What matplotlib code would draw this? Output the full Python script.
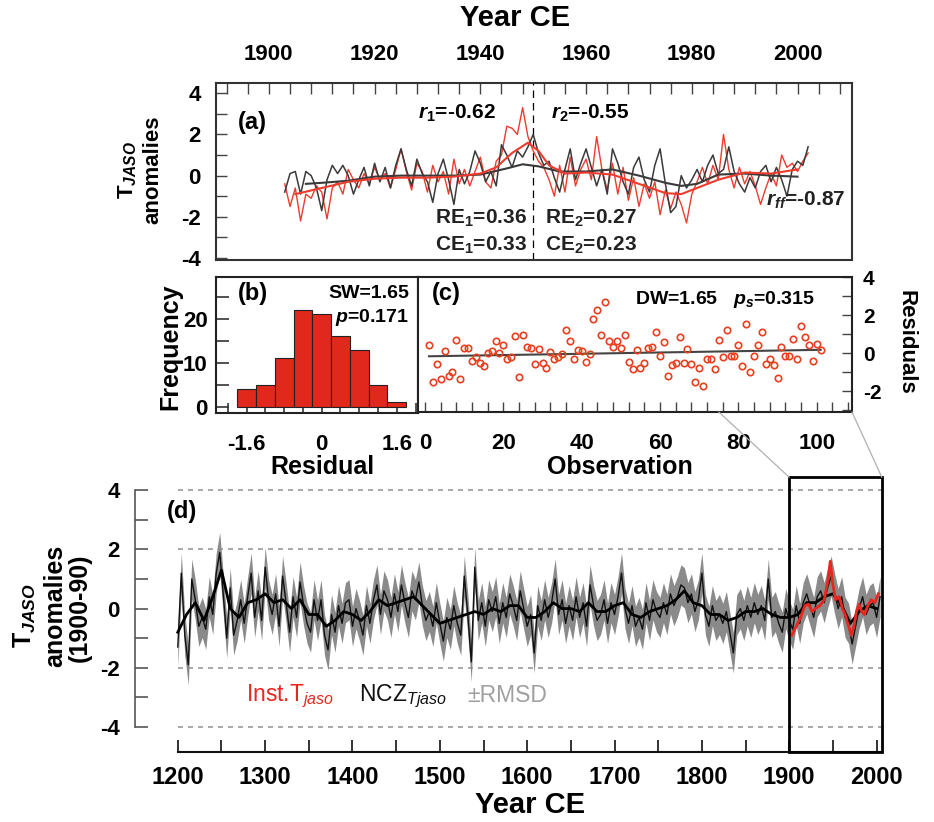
import numpy as np
import matplotlib
matplotlib.use("Agg")
import matplotlib.pyplot as plt
from matplotlib.patches import Rectangle, ConnectionPatch
from matplotlib.ticker import MultipleLocator, FixedLocator

plt.rcParams["font.family"] = ["Liberation Sans", "DejaVu Sans"]
plt.rcParams["font.weight"] = "bold"
plt.rcParams["axes.unicode_minus"] = False
plt.rcParams["mathtext.fontset"] = "custom"
plt.rcParams["mathtext.rm"] = "Liberation Sans:weight=normal"
plt.rcParams["mathtext.it"] = "Liberation Sans:style=italic:weight=normal"
plt.rcParams["mathtext.bf"] = "Liberation Sans:weight=bold"
plt.rcParams["mathtext.bfit"] = "Liberation Sans:style=italic:weight=bold"

RED = "#ee3b2e"
DARK = "#3a3a3a"

# ── Datos ──────────────────────────────────────────────────────────────────────
# (a) calibración 1903-2002: instrumental (rojo) y reconstrucción (negro)
years_a = np.arange(1903, 2003)
inst_a = [
    -0.4, -1.5, -0.6, -2.2, -0.9, -1.1, -0.5, -0.8, -2.1, -0.6,
    -0.3, -0.9, 0.3, -0.2, -0.6, 0.1, -0.4, 0.4, -0.2, 0.1,
    -0.6, 0.3, 1.3, 0.2, -0.7, 0.6, 0.2, -0.8, 0.5, -0.3,
    0.2, -0.9, 0.8, -0.4, 0.3, -0.5, 0.2, 0.9, -0.3, -0.6,
    0.7, 1.0, 2.4, 2.3, 2.0, 3.3, 1.9, 1.2, 0.7, 0.4,
    -0.2, -1.0, 0.5, -0.8, 0.9, -0.5, 0.3, 0.8, -0.2, 1.9,
    0.3, -0.7, 0.6, -0.9, 0.4, -1.2, -0.1, -1.5, -0.4, -1.1,
    -0.3, -1.9, -0.7, -1.6, -0.8, -1.4, -2.3, -0.9, -0.3, 0.4,
    -0.4, 0.5, -0.2, 2.0, 0.3, -0.6, 0.4, -0.4, 0.2, -0.5,
    -1.4, -0.6, 0.1, -0.5, 1.0, 0.4, 0.6, 0.2, 0.7, 1.1,
]
recon_a = [
    -0.8, 0.1, 0.2, -0.9, 0.2, 0.0, -0.6, -1.7, -0.2, 0.5,
    0.1, 0.5, 0.0, -0.9, -0.2, 0.4, -0.5, 0.6, -0.3, 0.4,
    -0.6, 0.5, 1.3, 0.3, -0.5, 0.8, 0.1, -0.3, -1.3, 0.1,
    0.8, -0.2, -1.4, 0.3, -0.4, 0.2, 1.2, 0.6, -0.3, 0.2,
    -0.5, 1.5, 1.0, 0.4, 1.2, 0.9, 1.4, 2.0, 1.1, 0.5,
    0.7, -0.1, -0.8, 0.3, 1.3, -0.2, 0.6, 1.3, 0.4, -0.5,
    0.3, -0.9, 1.3, 0.6, -0.3, -0.9, 0.4, 0.9, -0.2, -0.8,
    0.5, 1.3, -0.4, -1.8, -1.5, 0.0, -0.6, -0.2, 0.3, -0.3,
    0.5, 1.0, 0.1, 0.3, 1.4, 0.2, -0.4, -0.8, -0.1, -0.6,
    0.2, 0.5, -0.3, 0.4, -0.2, -1.0, 0.3, 0.7, 0.5, 1.4,
]
inst_smooth_yr = [1905, 1910, 1915, 1920, 1925, 1930, 1935, 1940, 1943, 1946, 1949,
                  1951, 1953, 1956, 1960, 1965, 1970, 1975, 1978, 1981, 1985, 1990,
                  1995, 2000]
inst_smooth = [-0.9, -0.6, -0.3, -0.15, -0.1, -0.1, -0.05, 0.1, 0.4, 1.1, 1.6,
               1.2, 0.5, 0.1, 0.15, 0.05, -0.4, -0.85, -0.9, -0.6, -0.2, 0.15,
               0.1, 0.3]
recon_smooth_yr = [1907, 1910, 1915, 1920, 1925, 1930, 1935, 1940, 1945, 1948, 1951,
                   1955, 1960, 1965, 1970, 1975, 1978, 1981, 1985, 1990, 1995, 2000]
recon_smooth = [-0.4, -0.35, -0.25, -0.05, 0.0, 0.0, 0.0, 0.05, 0.35, 0.55, 0.45,
                0.2, 0.2, 0.3, 0.0, -0.35, -0.5, -0.4, 0.05, 0.1, 0.0, -0.05]

# (b) histograma de residuos
bin_centers = [-1.6, -1.2, -0.8, -0.4, 0.0, 0.4, 0.8, 1.2, 1.6]
bin_counts = [4, 5, 11, 22, 21, 16, 13, 5, 1]

# (c) residuos por observación
residuals = [
    0.40, -1.50, -0.55, -1.36, 0.10, -1.19, -0.97, 0.69, -1.36, 0.28,
    0.28, -0.41, -0.21, -0.50, -0.69, 0.00, 0.10, 0.64, 0.02, 0.41,
    -0.33, -0.21, 0.90, -1.24, 0.97, 0.34, 0.28, -0.55, 0.21, -0.50,
    -0.76, 0.03, -0.29, -0.22, -0.07, 1.19, 0.64, -0.33, 0.17, 0.10,
    -0.48, -0.07, 1.81, 2.24, 0.97, 2.71, 0.64, 0.34, 0.64, 0.28,
    0.97, -0.48, -0.84, 0.14, -0.76, -0.53, 0.28, 0.34, 1.12, -0.16,
    0.57, -1.19, -0.64, -0.53, 0.83, -0.50, 0.21, -0.55, -1.50, -0.76,
    -1.72, -0.33, -0.33, -0.84, 0.69, -0.21, 1.19, -0.16, -0.16, 0.41,
    -0.69, 1.52, -0.97, -0.16, 0.41, 1.12, -0.55, -0.33, -0.64, -1.29,
    0.34, -0.16, -0.16, 0.76, -0.29, 1.40, 0.83, 0.41, -0.41, 0.48,
    0.17,
]
obs = np.arange(1, len(residuals) + 1)
trend_x = [1, 101]
trend_y = [-0.17, 0.17]

# (d) reconstrucción 1200-2004 (cada 4 años), suavizado decadal e instrumental
years_d = np.arange(1200, 2005, 4)
ncz_d = np.array([
    -1.3, 1.2, -0.9, -1.9, 1.0, 0.3, -0.6, -0.3, -0.7, 0.4,
    -0.2, 1.2, 1.9, 0.5, -1.0, 0.7, -0.9, -0.4, 0.3, -0.5,
    0.4, 1.2, -0.3, 0.6, -0.4, 1.4, 0.3, -0.2, 0.5, -0.6,
    1.1, 0.2, -0.8, 0.4, -0.3, 0.9, 0.1, -0.5, -0.8, 0.3,
    -0.4, 0.3, -0.9, -1.4, -0.2, -0.8, 0.1, -0.5, 0.2, 0.3,
    -0.6, 0.0, -0.4, -0.9, 0.1, -0.5, 0.3, 0.8, -0.2, 0.6,
    0.3, -0.3, 0.5, -0.1, 0.8, 0.2, -0.3, 0.6, 0.3, 0.9,
    0.1, -0.4, -0.1, -0.6, 0.2, -0.5, -1.1, -0.3, -0.7, 0.1,
    -0.5, -0.9, 1.1, -0.2, -1.8, 1.4, -0.4, 0.2, -0.6, 0.3,
    -0.1, 0.4, -0.5, 0.2, -0.3, 0.5, 0.1, -0.4, 0.6, 0.0,
    -0.6, -0.2, -1.5, 0.1, -0.4, 0.3, -0.3, 0.2, 1.0, -0.2,
    0.3, -0.5, 0.1, -0.4, 0.4, -0.3, 0.2, -0.6, 0.8, 0.1,
    -0.4, -0.2, 0.3, -0.5, 0.2, -0.2, 0.4, 1.2, 0.0, -0.5,
    0.1, -0.6, -0.3, -0.7, 0.2, -0.4, 0.3, -0.1, -0.3, 0.2,
    -0.2, 0.5, 0.1, 0.4, 0.8, 0.7, 0.2, 0.5, -0.1, 0.3,
    1.2, -0.2, -0.6, 0.1, -0.4, -0.2, -0.5, -0.1, -0.8, -1.5,
    -0.2, 0.0, -0.4, 0.1, -0.3, 0.2, -0.2, 0.1, -0.4, 1.0,
    -0.3, -0.1, -0.5, -0.8, 0.0, -0.4, -0.7, 0.1, -0.5, 0.2,
    0.5, 0.1, -0.3, 0.4, 0.6, 0.2, 0.7, 1.1, 0.5, 0.0,
    0.4, -0.3, -0.5, -1.2, -0.6, 0.0, 0.4, -0.2, 0.1, 0.2,
    -0.3, 0.4,
])
RMSD = 0.68
smooth_d_yr = np.arange(1200, 2001, 10)
smooth_d = [
    -0.8, -0.2, 0.2, -0.4, 0.4, 1.3, 0.0, -0.3, 0.2, 0.3,
    0.5, 0.2, 0.3, 0.0, 0.3, -0.2, -0.2, -0.6, -0.4, -0.1,
    -0.2, -0.4, -0.1, 0.3, 0.1, 0.2, 0.3, 0.4, 0.1, -0.2,
    -0.5, -0.4, -0.3, -0.2, -0.1, -0.2, 0.0, -0.1, 0.1, 0.1,
    -0.3, -0.3, -0.1, 0.2, 0.0, 0.0, -0.1, 0.2, -0.1, -0.1,
    0.1, 0.2, -0.2, -0.3, -0.1, 0.0, 0.1, 0.3, 0.6, 0.2,
    0.1, -0.2, -0.2, -0.4, -0.3, -0.1, -0.1, 0.0, -0.2, -0.3,
    -0.3, -0.2, 0.2, 0.2, 0.4, 0.5, 0.1, -0.5, -0.1, 0.1,
    0.0,
]
inst_d_yr = [1903, 1908, 1913, 1918, 1922, 1926, 1930, 1935, 1940, 1944,
             1947, 1950, 1953, 1957, 1961, 1964, 1968, 1971, 1974, 1977,
             1980, 1983, 1986, 1990, 1994, 1998, 2002]
inst_d = [-0.9, -0.6, -0.3, 0.1, 0.15, -0.1, 0.0, 0.1, 0.3, 0.9,
          1.6, 0.8, 0.3, 0.4, 0.0, -0.2, -0.6, -0.9, -0.6, -0.1,
          0.15, -0.1, -0.2, 0.1, 0.3, 0.2, 0.5]

# ── Figura ─────────────────────────────────────────────────────────────────────
W, H = 934, 822


def box(x0, y0, x1, y1):
    return [x0 / W, 1 - y1 / H, (x1 - x0) / W, (y1 - y0) / H]


fig = plt.figure(figsize=(W / 100, H / 100), dpi=100)

# ---- (a) ----
ax_a = fig.add_axes(box(216, 83, 852, 260))
ax_a.plot(years_a, inst_a, color=RED, lw=1.0, zorder=2)
ax_a.plot(years_a, recon_a, color=DARK, lw=1.1, zorder=3)
ax_a.plot(recon_smooth_yr, recon_smooth, color=DARK, lw=1.5, zorder=4)
ax_a.plot(inst_smooth_yr, inst_smooth, color=RED, lw=1.5, zorder=4)
ax_a.axvline(1950, color="k", lw=0.9, ls=(0, (6, 4)), zorder=1)
ax_a.set_xlim(1890, 2010.3)
ax_a.set_ylim(-4.1, 4.5)
ax_a.xaxis.tick_top()
ax_a.xaxis.set_major_locator(FixedLocator(range(1900, 2001, 20)))
ax_a.xaxis.set_minor_locator(MultipleLocator(4))
ax_a.yaxis.set_major_locator(MultipleLocator(2))
ax_a.yaxis.set_minor_locator(MultipleLocator(1))
ax_a.tick_params(which="both", direction="in", top=True, bottom=False,
                 left=True, right=False, length=8, width=1, color="#444")
ax_a.tick_params(axis="x", labeltop=True, labelbottom=False, pad=13, labelsize=16)
ax_a.tick_params(axis="y", pad=11, labelsize=16)
for s in ax_a.spines.values():
    s.set_color("#333")
    s.set_linewidth(1.5)

fs = 15
ax_a.text(0.035, 0.775, "(a)", transform=ax_a.transAxes, fontsize=17, va="center")
ax_a.text(0.318, 0.83, r"$\mathbfit{r}_\mathbf{1}$=-0.62", transform=ax_a.transAxes,
          fontsize=fs, va="center")
ax_a.text(0.527, 0.83, r"$\mathbfit{r}_\mathbf{2}$=-0.55", transform=ax_a.transAxes,
          fontsize=fs, va="center")
ax_a.text(0.345, 0.236, r"RE$_\mathbf{1}$=0.36", transform=ax_a.transAxes,
          fontsize=fs, va="center", color="#222")
ax_a.text(0.345, 0.084, r"CE$_\mathbf{1}$=0.33", transform=ax_a.transAxes,
          fontsize=fs, va="center", color="#222")
ax_a.text(0.517, 0.236, r"RE$_\mathbf{2}$=0.27", transform=ax_a.transAxes,
          fontsize=fs, va="center", color="#222")
ax_a.text(0.517, 0.084, r"CE$_\mathbf{2}$=0.23", transform=ax_a.transAxes,
          fontsize=fs, va="center", color="#222")
ax_a.text(0.99, 0.337, r"$\mathbfit{r}_\mathbfit{ff}$=-0.87", transform=ax_a.transAxes,
          fontsize=fs, va="center", ha="right", color="#222")

fig.text(515 / W, 1 - 18 / H, "Year CE", ha="center", va="center", fontsize=21)
fig.text(128 / W, 1 - 170 / H, r"T$_{\mathbfit{JASO}}$", rotation=90,
         ha="center", va="center", fontsize=16)
fig.text(153 / W, 1 - 170 / H, "anomalies", rotation=90,
         ha="center", va="center", fontsize=16)

# ---- (b) ----
ax_b = fig.add_axes(box(216, 277, 418, 413))
ax_b.set_axisbelow(True)
ax_b.bar(bin_centers, bin_counts, width=0.4, color="#e0281c", edgecolor="#222",
         linewidth=0.8, zorder=2)
ax_b.set_xlim(-2.25, 2.05)
ax_b.set_ylim(-1.4, 29.5)
ax_b.xaxis.set_major_locator(FixedLocator([-1.6, 0, 1.6]))
ax_b.xaxis.set_minor_locator(MultipleLocator(0.4))
ax_b.xaxis.set_major_formatter(plt.FuncFormatter(lambda v, p: f"{v:g}"))
ax_b.yaxis.set_major_locator(MultipleLocator(10))
ax_b.yaxis.set_minor_locator(MultipleLocator(5))
ax_b.tick_params(which="both", direction="in", top=False, right=False,
                 length=9, width=1.2, color="#333")
ax_b.tick_params(axis="x", which="both", length=7)
ax_b.tick_params(axis="x", pad=15, labelsize=16)
ax_b.tick_params(axis="y", pad=6, labelsize=16)
for s in ax_b.spines.values():
    s.set_color("#222")
    s.set_linewidth(1.5)
ax_b.text(0.109, 0.88, "(b)", transform=ax_b.transAxes, fontsize=17, va="center")
ax_b.text(0.955, 0.88, "SW=1.65", transform=ax_b.transAxes, fontsize=14,
          va="center", ha="right")
ax_b.text(0.955, 0.70, r"$\mathbfit{p}$=0.171", transform=ax_b.transAxes,
          fontsize=14, va="center", ha="right")
fig.text(170 / W, 1 - 347 / H, "Frequency", rotation=90, ha="center",
         va="center", fontsize=18)
fig.text(322 / W, 1 - 467 / H, "Residual", ha="center", va="center", fontsize=18)

# ---- (c) ----
ax_c = fig.add_axes(box(418, 277, 852, 412))
ax_c.plot(trend_x, trend_y, color="#444", lw=1.5, zorder=2)
ax_c.plot(obs, residuals, "o", mfc="none", mec="#e8401f", ms=4.6, mew=1.2, zorder=3)
ax_c.set_xlim(-1.8, 109)
ax_c.set_ylim(-3.1, 4.0)
ax_c.yaxis.tick_right()
ax_c.xaxis.set_major_locator(MultipleLocator(20))
ax_c.xaxis.set_minor_locator(MultipleLocator(4))
ax_c.yaxis.set_major_locator(FixedLocator([-2, 0, 2, 4]))
ax_c.yaxis.set_minor_locator(MultipleLocator(1))
ax_c.tick_params(which="both", direction="in", top=False, left=False,
                 right=True, length=7, width=1, color="#444")
ax_c.tick_params(axis="x", pad=15, labelsize=16)
ax_c.tick_params(axis="y", pad=8, labelsize=15)
for s in ax_c.spines.values():
    s.set_color("#222")
    s.set_linewidth(1.5)
ax_c.text(0.032, 0.88, "(c)", transform=ax_c.transAxes, fontsize=17, va="center")
ax_c.text(0.915, 0.83, r"DW=1.65   $\mathbfit{p}_\mathbfit{s}$=0.315",
          transform=ax_c.transAxes, fontsize=14, va="center", ha="right")
fig.text(906 / W, 1 - 342 / H, "Residuals", rotation=270, ha="center",
         va="center", fontsize=16)
fig.text(620 / W, 1 - 467 / H, "Observation", ha="center", va="center", fontsize=18)

# ---- (d) ----
ax_d = fig.add_axes(box(135, 477, 884, 752))
ax_d.fill_between(years_d, ncz_d - RMSD, ncz_d + RMSD, color="#8a8a8a", lw=0,
                  zorder=1)
ax_d.plot(years_d, ncz_d, color="#111", lw=1.0, zorder=2)
ax_d.plot(smooth_d_yr, smooth_d, color="k", lw=2.0, zorder=3)
ax_d.plot(inst_d_yr, inst_d, color="#e8271e", lw=2.0, zorder=4)
for yv in (4, 2, -2, -4):
    ax_d.hlines(yv, 1200, 2005, colors="#9a9a9a", linestyles=(0, (3, 3)),
                lw=1.2, zorder=0)
ax_d.add_patch(Rectangle((1900, -4.85), 106, 9.29, fill=False, ec="k", lw=2,
                         clip_on=False, zorder=5))
ax_d.set_xlim(1151, 2008.5)
ax_d.set_ylim(-4.85, 4.45)
ax_d.spines["top"].set_visible(False)
ax_d.spines["right"].set_visible(False)
ax_d.spines["left"].set_bounds(-4, 4)
ax_d.spines["left"].set_color("#555")
ax_d.spines["left"].set_linewidth(1.2)
ax_d.spines["bottom"].set_bounds(1200, 2006)
ax_d.spines["bottom"].set_color("#111")
ax_d.spines["bottom"].set_linewidth(1.5)
ax_d.xaxis.set_major_locator(MultipleLocator(100))
ax_d.xaxis.set_minor_locator(MultipleLocator(50))
ax_d.yaxis.set_major_locator(MultipleLocator(2))
ax_d.yaxis.set_minor_locator(MultipleLocator(1))
ax_d.tick_params(which="both", direction="in", length=9, width=1.2)
ax_d.tick_params(axis="y", which="both", color="#555", pad=11, labelsize=16)
ax_d.tick_params(axis="x", which="both", color="#111", pad=10, labelsize=17)
ax_d.text(1188, 3.3, "(d)", fontsize=17, va="center")

leg_fs = 16.5
ax_d.text(1278, -2.95, r"Inst.T$_{\mathit{jaso}}$", color="#e8271e", fontsize=leg_fs,
          fontweight="normal", va="center")
ax_d.text(1408, -2.95, r"NCZ$_{\mathit{Tjaso}}$", color="#111", fontsize=leg_fs,
          fontweight="normal", va="center")
ax_d.text(1531, -2.95, "±RMSD", color="#a0a0a0", fontsize=leg_fs,
          fontweight="normal", va="center")

fig.text(25 / W, 1 - 616 / H, r"T$_{\mathbfit{JASO}}$", rotation=90,
         ha="center", va="center", fontsize=18)
fig.text(55 / W, 1 - 606 / H, "anomalies", rotation=90, ha="center",
         va="center", fontsize=18)
fig.text(80 / W, 1 - 608 / H, "(1900-90)", rotation=90, ha="center",
         va="center", fontsize=18)
fig.text(530 / W, 1 - 805 / H, "Year CE", ha="center", va="center", fontsize=21)

# líneas que unen la ventana 1900-2006 con el panel (c)
for xa, xb in ((75, 1900), (109, 2006)):
    con = ConnectionPatch(xyA=(xa, -3.1), coordsA=ax_c.transData,
                          xyB=(xb, 4.44), coordsB=ax_d.transData,
                          color="#b0b0b0", lw=0.9)
    fig.add_artist(con)

fig.savefig("out.png", dpi=100)
plt.close()
